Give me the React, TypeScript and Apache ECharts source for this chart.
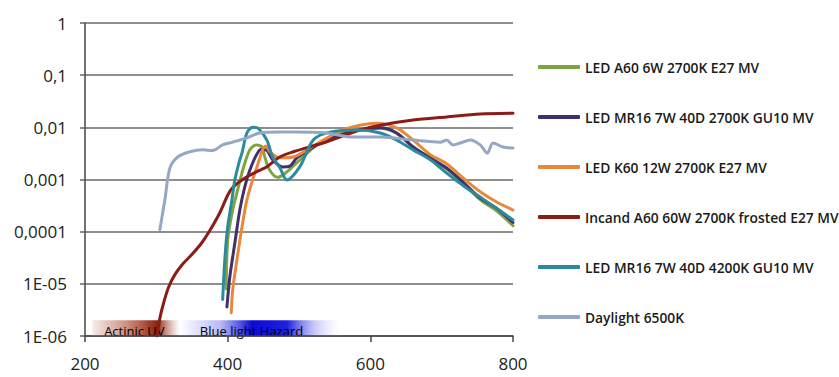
import React, { useEffect, useRef } from "react";
import * as echarts from "echarts";

// [wavelength nm, relative value]
const ledA60: [number, number][] = [
  [398, 8e-6], [400, 6.9e-5], [407, 2.6e-4], [414, 6.3e-4], [421, 1.5e-3], [431, 3.7e-3],
  [440, 4.6e-3], [448, 4.2e-3], [452, 2.7e-3], [459, 1.5e-3], [470, 1.1e-3], [483, 1.4e-3],
  [497, 2.1e-3], [525, 4.6e-3], [553, 7.1e-3], [585, 8.9e-3], [614, 9.6e-3], [637, 7.6e-3],
  [660, 4.2e-3], [684, 2.5e-3], [707, 1.6e-3], [730, 8.5e-4], [754, 4.1e-4], [777, 2.5e-4],
  [800, 1.3e-4],
];
const ledMr16Warm: [number, number][] = [
  [399, 3.6e-6], [403, 1.35e-5], [410, 6e-5], [417, 2.6e-4], [424, 7.2e-4], [431, 1.5e-3],
  [440, 2.9e-3], [447, 3.8e-3], [455, 3.6e-3], [463, 2.4e-3], [477, 1.74e-3], [487, 1.8e-3],
  [497, 2.6e-3], [525, 4.6e-3], [553, 6.8e-3], [585, 8.9e-3], [614, 9.8e-3], [637, 7.8e-3],
  [660, 4.2e-3], [684, 2.6e-3], [707, 1.66e-3], [730, 8.9e-4], [754, 4.4e-4], [777, 2.8e-4],
  [800, 1.5e-4],
];
const ledK60: [number, number][] = [
  [405, 2.8e-6], [407, 7.6e-6], [413, 2.9e-5], [420, 1.2e-4], [427, 4.1e-4], [435, 9.8e-4],
  [442, 1.9e-3], [450, 4.0e-3], [454, 4.4e-3], [459, 3.4e-3], [473, 2.6e-3], [492, 2.7e-3],
  [515, 4.0e-3], [539, 6.2e-3], [562, 8.9e-3], [585, 1.1e-2], [609, 1.2e-2], [637, 9.8e-3],
  [660, 5.7e-3], [684, 3.0e-3], [707, 2.0e-3], [730, 1.07e-3], [754, 5.8e-4], [777, 3.7e-4],
  [800, 2.6e-4],
];
const incandA60: [number, number][] = [
  [301, 1e-6], [305, 2.2e-6], [310, 4.2e-6], [317, 8.5e-6], [326, 1.5e-5], [337, 2.4e-5],
  [351, 3.8e-5], [364, 6.2e-5], [375, 1.05e-4], [389, 2.3e-4], [400, 5e-4], [407, 7e-4],
  [421, 1.0e-3], [440, 1.4e-3], [455, 1.75e-3], [473, 2.7e-3], [492, 3.4e-3], [539, 5.3e-3],
  [585, 8.9e-3], [614, 1.1e-2], [660, 1.38e-2], [707, 1.58e-2], [754, 1.8e-2], [800, 1.87e-2],
];
const ledMr16Cool: [number, number][] = [
  [393, 5e-6], [396, 2.9e-5], [400, 1.23e-4], [406, 4.1e-4], [410, 9.8e-4], [417, 2.4e-3],
  [420, 3.2e-3], [427, 7.8e-3], [435, 1.0e-2], [443, 9.5e-3], [455, 5.7e-3], [463, 2.7e-3],
  [473, 1.7e-3], [483, 9.8e-4], [501, 1.74e-3], [520, 5.7e-3], [543, 8.1e-3], [585, 8.9e-3],
  [614, 7.8e-3], [637, 5.7e-3], [660, 3.7e-3], [684, 2.4e-3], [707, 1.33e-3], [730, 7.7e-4],
  [754, 4.6e-4], [777, 2.8e-4], [800, 1.67e-4],
];
const daylight: [number, number][] = [
  [305, 1.1e-4], [312, 4.1e-4], [319, 1.66e-3], [330, 2.7e-3], [347, 3.4e-3], [365, 3.7e-3],
  [379, 3.6e-3], [393, 4.6e-3], [407, 5.2e-3], [427, 6.3e-3], [445, 7.8e-3], [473, 8.1e-3],
  [492, 8.1e-3], [539, 7.8e-3], [576, 6.5e-3], [614, 6.5e-3], [660, 5.7e-3], [698, 5.2e-3],
  [707, 5.7e-3], [716, 4.6e-3], [726, 5.0e-3], [740, 5.7e-3], [754, 4.6e-3], [764, 3.2e-3],
  [772, 5.0e-3], [786, 4.2e-3], [800, 4.0e-3],
];

const seriesNames = [
  "LED A60 6W 2700K E27 MV",
  "LED MR16 7W 40D 2700K GU10 MV",
  "LED K60 12W 2700K E27 MV",
  "Incand A60 60W 2700K frosted E27 MV",
  "LED MR16 7W 40D 4200K GU10 MV",
  "Daylight 6500K",
];
const seriesData = [ledA60, ledMr16Warm, ledK60, incandA60, ledMr16Cool, daylight];
const seriesColors = ["#7ea33f", "#40306e", "#e8893a", "#8b1c16", "#2b8a9d", "#94a7c4"];

const xTicks = [200, 400, 600, 800];
const yTickLabels: Record<string, string> = {
  "0": "1", "-1": "0,1", "-2": "0,01", "-3": "0,001", "-4": "0,0001", "-5": "1E-05", "-6": "1E-06",
};

// hazard bands: [startNm, endNm, yLow, yHigh, label]
const bandActinic = [210, 333, 1.0e-6, 2.0e-6, "Actinic UV"] as const;
const bandBlue = [333, 557, 1.0e-6, 2.0e-6, "Blue light Hazard"] as const;

const FONT = "'Open Sans', sans-serif";

export default function App() {
  const ref = useRef<HTMLDivElement>(null);
  useEffect(() => {
    if (!ref.current) return;
    const chart = echarts.init(ref.current, undefined, { renderer: "svg" });
    const actinicGrad = new echarts.graphic.LinearGradient(0, 0, 1, 0, [
      { offset: 0, color: "rgba(245,235,232,0.9)" },
      { offset: 0.4, color: "rgba(200,130,110,0.9)" },
      { offset: 0.74, color: "rgba(140,35,15,1)" },
      { offset: 1, color: "rgba(255,255,255,0.6)" },
    ]);
    const blueGrad = new echarts.graphic.LinearGradient(0, 0, 1, 0, [
      { offset: 0, color: "rgba(255,255,255,0.8)" },
      { offset: 0.25, color: "rgba(170,170,245,0.8)" },
      { offset: 0.45, color: "rgba(10,10,215,1)" },
      { offset: 0.67, color: "rgba(20,20,220,0.95)" },
      { offset: 0.85, color: "rgba(170,170,245,0.6)" },
      { offset: 1, color: "rgba(255,255,255,0.3)" },
    ]);
    const bandLabel = {
      show: true,
      position: "insideLeft" as const,
      color: "#000",
      opacity: 1,
      fontFamily: FONT,
      fontSize: 13,
      offset: [0, 3],
    };
    const series: any[] = seriesNames.map((name, i) => ({
      name,
      type: "line",
      data: seriesData[i],
      smooth: 0.3,
      showSymbol: false,
      symbol: "none",
      lineStyle: { width: 3, color: seriesColors[i], cap: "round", join: "round" },
      itemStyle: { color: seriesColors[i] },
      z: 3,
    }));
    series.push({
      name: "bands",
      type: "line",
      data: [],
      silent: true,
      z: 1,
      markArea: {
        silent: true,
        data: [
          [
            { xAxis: bandActinic[0], yAxis: bandActinic[2], itemStyle: { color: actinicGrad }, label: { ...bandLabel, distance: 12 }, name: bandActinic[4] },
            { xAxis: bandActinic[1], yAxis: bandActinic[3] },
          ],
          [
            { xAxis: bandBlue[0], yAxis: bandBlue[2], itemStyle: { color: blueGrad }, label: { ...bandLabel, distance: 20 }, name: bandBlue[4] },
            { xAxis: bandBlue[1], yAxis: bandBlue[3] },
          ],
        ],
      },
    });
    chart.setOption({
      animation: false,
      backgroundColor: "#ffffff",
      grid: { left: 85, right: 326, top: 23, bottom: 41, containLabel: false },
      legend: {
        data: seriesNames,
        orient: "vertical",
        left: 533,
        top: 54,
        icon: "roundRect",
        itemWidth: 42,
        itemHeight: 4,
        itemGap: 34,
        textStyle: { fontFamily: FONT, fontSize: 13.8, fontWeight: 600, color: "#1a1a1a", lineHeight: 16 },
        selectedMode: false,
      },
      xAxis: {
        type: "value",
        min: 200,
        max: 800,
        interval: 200,
        z: 5,
        axisLine: { show: true, onZero: false, lineStyle: { color: "#444", width: 1.5 } },
        axisTick: { show: true, length: 6, lineStyle: { color: "#444", width: 1.5 } },
        axisLabel: {
          margin: 19,
          fontFamily: FONT,
          fontSize: 17,
          color: "#222",
          formatter: (v: number) => (xTicks.includes(v) ? String(v) : ""),
        },
        splitLine: { show: false },
      },
      yAxis: {
        type: "log",
        logBase: 10,
        min: 1e-6,
        max: 1,
        axisLine: { show: true, lineStyle: { color: "#444", width: 1.5 } },
        axisTick: { show: true, length: 5, lineStyle: { color: "#666", width: 1.5 } },
        axisLabel: {
          margin: 18,
          fontFamily: FONT,
          fontSize: 17,
          color: "#222",
          formatter: (v: number) => yTickLabels[String(Math.round(Math.log10(v)))] ?? "",
        },
        splitLine: { show: true, lineStyle: { color: "#6a6a6a", width: 1.5 } },
      },
      series,
    });
    return () => chart.dispose();
  }, []);
  return (
    <div
      ref={ref}
      style={{ position: "fixed", left: 0, top: 0, width: 839, height: 377, background: "#fff" }}
    />
  );
}
